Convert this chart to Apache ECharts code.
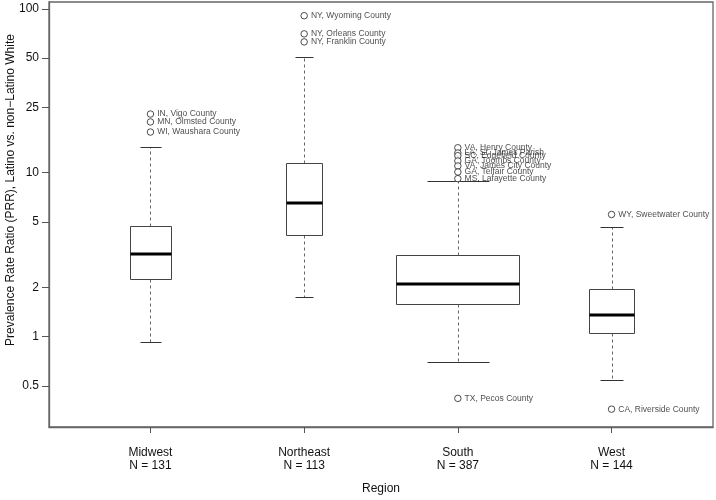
<!DOCTYPE html>
<html><head><meta charset="utf-8">
<script src="https://cdn.jsdelivr.net/npm/echarts@6/dist/echarts.min.js"></script>
<style>html,body{margin:0;padding:0;background:#fff}#c{width:716px;height:500px}</style>
</head><body><div id="c"></div>
<script>
const regions = ['Midwest', 'Northeast', 'South', 'West'];
const counts = [131, 113, 387, 144];
const whiskerLow = [0.93, 1.74, 0.70, 0.54];
const q1 = [2.24, 4.15, 1.585, 1.057];
const medians = [3.2, 6.58, 2.10, 1.354];
const q3 = [4.75, 11.5, 3.15, 1.945];
const whiskerHigh = [14.4, 51, 8.9, 4.64];
const outlierRegion = [0, 0, 0, 1, 1, 1, 2, 2, 2, 2, 2, 2, 2, 2, 3, 3];
const outlierValues = [22.8, 20.4, 17.7, 90.7, 70.3, 62.8, 14.2, 13.2, 12.7, 11.8, 11.0, 10.1, 9.2, 0.42, 5.56, 0.361];
const outlierNames = ['IN, Vigo County', 'MN, Olmsted County', 'WI, Waushara County',
  'NY, Wyoming County', 'NY, Orleans County', 'NY, Franklin County',
  'VA, Henry County', 'LA, St. James Parish', 'SC, Edgefield County', 'GA, Toombs County',
  'VA, James City County', 'GA, Telfair County', 'MS, Lafayette County', 'TX, Pecos County',
  'WY, Sweetwater County', 'CA, Riverside County'];
const yTicks = [0.5, 1, 2, 5, 10, 25, 50, 100];
const xTicks = [1, 2, 3, 4];

const FONT = 'Liberation Sans, Arial, sans-serif';
const maxN = Math.max.apply(null, counts);
const boxData = regions.map((r, i) => [i + 1, whiskerLow[i], q1[i], medians[i], q3[i], whiskerHigh[i], counts[i]]);
const outData = outlierValues.map((v, i) => [outlierRegion[i] + 1, v]);

function renderBox(params, api) {
  const x = api.value(0), lo = api.value(1), a = api.value(2), m = api.value(3), b = api.value(4), hi = api.value(5), n = api.value(6);
  const hw = 0.4 * n / maxN;
  const pc = (xx, yy) => api.coord([xx, yy]);
  const cx = Math.round(pc(x, m)[0]) + 0.5;
  const yv = v => Math.round(pc(x, v)[1]) + 0.5;
  const xl = Math.round(pc(x - hw, m)[0]) + 0.5, xr = Math.round(pc(x + hw, m)[0]) + 0.5;
  const cl = Math.round(pc(x - hw / 2, m)[0]) + 0.5, cr = Math.round(pc(x + hw / 2, m)[0]) + 0.5;
  const dash = { stroke: '#666', lineWidth: 1, lineDash: [3, 3] };
  const solid = { stroke: '#333', lineWidth: 1 };
  return {
    type: 'group',
    children: [
      { type: 'line', shape: { x1: cx, y1: yv(b), x2: cx, y2: yv(hi) }, style: dash },
      { type: 'line', shape: { x1: cx, y1: yv(a), x2: cx, y2: yv(lo) }, style: dash },
      { type: 'line', shape: { x1: cl, y1: yv(hi), x2: cr, y2: yv(hi) }, style: solid },
      { type: 'line', shape: { x1: cl, y1: yv(lo), x2: cr, y2: yv(lo) }, style: solid },
      { type: 'rect', shape: { x: xl, y: yv(b), width: xr - xl, height: yv(a) - yv(b) }, style: { fill: '#fff', stroke: '#444', lineWidth: 1 } },
      { type: 'line', shape: { x1: xl, y1: Math.round(pc(x, m)[1]), x2: xr, y2: Math.round(pc(x, m)[1]) }, style: { stroke: '#000', lineWidth: 3 } }
    ]
  };
}

const chart = echarts.init(document.getElementById('c'), null, { renderer: 'canvas' });
chart.setOption({
  animation: false,
  backgroundColor: '#fff',
  grid: { left: 49, right: 3, top: 2, bottom: 70, show: true, borderColor: '#666', borderWidth: 1.3, backgroundColor: 'transparent' },
  xAxis: {
    type: 'value', min: 0.34, max: 4.66,
    splitLine: { show: false },
    axisLine: { show: true, onZero: false, lineStyle: { color: '#666', width: 1.3 } },
    axisTick: { show: true, customValues: xTicks, length: 6, lineStyle: { color: '#555' } },
    axisLabel: {
      customValues: xTicks, margin: 19, fontSize: 12, lineHeight: 13, color: '#111', fontFamily: FONT,
      formatter: v => regions[Math.round(v) - 1] + '\nN = ' + counts[Math.round(v) - 1]
    },
    name: 'Region', nameLocation: 'middle', nameGap: 56,
    nameTextStyle: { fontSize: 12, color: '#111', fontFamily: FONT }
  },
  yAxis: {
    type: 'log', logBase: 10, min: 0.281, max: 110,
    splitLine: { show: false },
    minorTick: { show: false },
    axisLine: { show: true, lineStyle: { color: '#666', width: 1.3 } },
    axisTick: { show: true, customValues: yTicks, length: 7, lineStyle: { color: '#555' } },
    axisLabel: { customValues: yTicks, margin: 10, fontSize: 12, color: '#111', fontFamily: FONT, formatter: v => String(v) }
  },
  graphic: [{
    type: 'text', x: 11, y: 190, rotation: Math.PI / 2,
    style: { text: 'Prevalence Rate Ratio (PRR), Latino vs. non\u2212Latino White', fontSize: 12, fill: '#111', fontFamily: FONT, align: 'center', verticalAlign: 'middle' }
  }],
  series: [
    { type: 'custom', renderItem: renderBox, data: boxData, encode: { x: 0, y: [1, 2, 3, 4, 5] }, z: 2 },
    {
      type: 'scatter', data: outData, symbol: 'circle', symbolSize: 6.5, z: 3,
      itemStyle: { color: '#fff', borderColor: '#222', borderWidth: 1 },
      label: {
        show: true, position: 'right', distance: 3, fontSize: 8.5, color: '#222', fontFamily: FONT,
        formatter: p => outlierNames[p.dataIndex]
      }
    }
  ]
});
</script></body></html>
